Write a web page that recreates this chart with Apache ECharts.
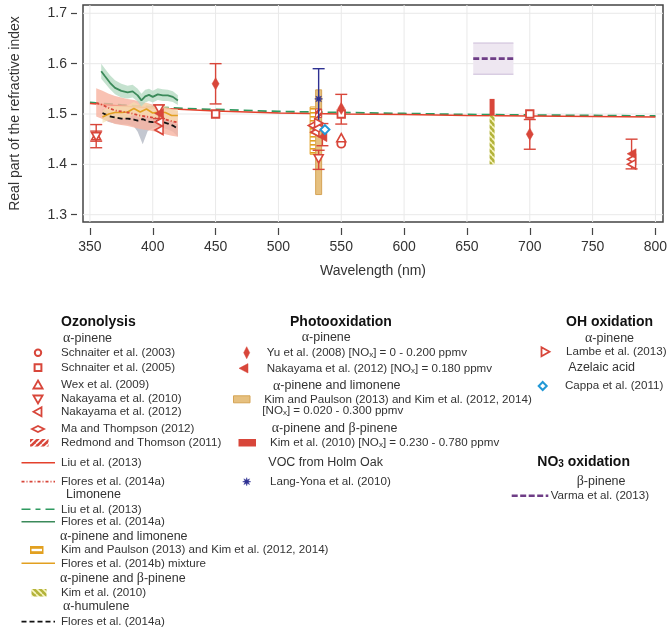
<!DOCTYPE html>
<html><head><meta charset="utf-8">
<script src="https://cdn.jsdelivr.net/npm/echarts@6/dist/echarts.min.js"></script>
<style>html,body{margin:0;padding:0;background:#fff}#c{width:671px;height:632px}</style>
</head><body><div id="c"></div>
<script>
// ---------- tick labels ----------
const xTickVals=[350,400,450,500,550,600,650,700,750,800];
const yTickVals=[1.3,1.4,1.5,1.6,1.7];

// ---------- Liu et al. (2013) model lines ----------
const liuX=[350,375,400,425,450,500,550,600,650,700,750,800];
const liuApN=[1.521,1.516,1.512,1.509,1.506,1.502,1.500,1.499,1.497,1.496,1.495,1.494];
const liuLimN=[1.523,1.518,1.514,1.511,1.509,1.505,1.503,1.501,1.499,1.498,1.497,1.496];

// ---------- Flores et al. spectra ----------
const limFlX=[359,362,366,370,375,380,384,388,391,394,397,400,404,408,412,416,420];
const limFlN=[1.585,1.575,1.562,1.552,1.546,1.543,1.545,1.537,1.527,1.535,1.538,1.534,1.539,1.537,1.537,1.534,1.527];
const limFlHi=[1.600,1.590,1.577,1.567,1.560,1.556,1.558,1.550,1.540,1.548,1.550,1.546,1.551,1.549,1.548,1.545,1.537];
const limFlLo=[1.570,1.561,1.549,1.539,1.533,1.531,1.533,1.525,1.515,1.523,1.526,1.523,1.528,1.526,1.526,1.524,1.518];

const apFlX=[355,360,365,370,375,380,385,390,395,400,405,410,415,420];
const apFlN=[1.522,1.518,1.512,1.507,1.505,1.503,1.500,1.497,1.495,1.493,1.490,1.489,1.486,1.483];
const apFlHi=[1.551,1.546,1.540,1.536,1.533,1.530,1.528,1.525,1.522,1.519,1.516,1.512,1.509,1.506];
const apFlLo=[1.495,1.490,1.485,1.480,1.478,1.476,1.473,1.470,1.468,1.466,1.463,1.460,1.457,1.455];

const mixFlX=[360,365,370,375,380,385,390,395,400,405,410,415,420];
const mixFlN=[1.494,1.500,1.503,1.503,1.504,1.511,1.504,1.510,1.502,1.504,1.503,1.497,1.497];
const mixFlHi=[1.507,1.513,1.516,1.516,1.517,1.524,1.517,1.523,1.515,1.517,1.516,1.510,1.510];
const mixFlLo=[1.482,1.488,1.491,1.491,1.492,1.499,1.492,1.498,1.490,1.492,1.491,1.485,1.485];

const humFlX=[360,365,370,375,380,385,388,392,396,400,404,408,412,416,420];
const humFlN=[1.502,1.496,1.493,1.491,1.491,1.489,1.487,1.490,1.485,1.484,1.487,1.484,1.481,1.477,1.471];
const humFlHi=[1.510,1.504,1.501,1.499,1.499,1.497,1.495,1.498,1.493,1.492,1.495,1.492,1.489,1.485,1.479];
const humFlLo=[1.490,1.484,1.481,1.479,1.479,1.475,1.465,1.440,1.466,1.472,1.475,1.472,1.469,1.465,1.455];

// ---------- Ozonolysis point data ----------
const schnaiter2003=[[550,1.441]];
const schnaiter2005=[[450,1.500],[550,1.500],[700,1.500]];
const wex2009=[[355,1.457],[550,1.453]];
const wex2009Err=[[355,1.446,1.479]];
const nakayama2010=[[355,1.455],[405,1.510],[532,1.411]];
const nakayama2010Err=[[355,1.433,1.466],[532,1.390,1.428]];
const nakayama2012Oz=[[405,1.484],[405,1.468],[527,1.477],[529,1.464],[781,1.410],[781,1.400]];
const maThompson2012=[[532,1.472]];
const redmond2011=[[532,1.493,1.510]];
const kimPaulsonOz=[[528,1.420,1.514]];
const kim2010Oz=[[670,1.400,1.497]];

// ---------- Photooxidation point data ----------
const yu2008=[[450,1.560],[550,1.511],[700,1.460]];
const yu2008Err=[[450,1.520,1.600],[550,1.480,1.539],[700,1.430,1.489]];
const nakayama2012Ph=[[405,1.501],[535,1.455],[781,1.421]];
const nakayama2012PhErr=[[405,1.491,1.518],[535,1.437,1.481],[781,1.391,1.450]];
const kimPaulsonPh=[[532,1.340,1.548]];
const kim2010Ph=[[670,1.497,1.530]];
const langYona2010=[[532,1.530]];
const langYona2010Err=[[532,1.470,1.590]];

// ---------- OH / NO3 oxidation ----------
const lambe2013=[[532,1.482]];
const cappa2011=[[537,1.469]];
const varmaX=[655,687];
const varmaN=[1.610,1.610];
const varmaLo=[1.579,1.579];
const varmaHi=[1.641,1.641];

// ---------- styles ----------
const F='Liberation Sans, Arial, sans-serif';
const RED='#d8463a', LIURED='#e4412c', GREEN='#3b8a5a', GREEN2='#2f9a60', ORANGE='#e2a020',
      NAVY='#2e3192', CYAN='#2198d6', PURPLE='#6e3d86', TAN='#e6c07f', TANB='#d5a455';

function pat(w,h,draw){const c=document.createElement('canvas');c.width=w;c.height=h;const g=c.getContext('2d');draw(g,w,h);return {image:c,repeat:'repeat'};}
function diag(bg,fg,dir){return pat(6,6,(g)=>{g.fillStyle=bg;g.fillRect(0,0,6,6);g.strokeStyle=fg;g.lineWidth=1.6;
  for(const o of [-6,0,6]){g.beginPath(); if(dir>0){g.moveTo(o,6);g.lineTo(o+6,0);}else{g.moveTo(o,0);g.lineTo(o+6,6);} g.stroke();}});}
const redHatch=diag(RED,'#ffffff',1);
const oliveHatch=diag('#b3b33a','#f8f4c0',-1);
const ladder=pat(4,4,(g)=>{g.fillStyle='#fff';g.fillRect(0,0,4,4);g.fillStyle=ORANGE;g.fillRect(0,0,4,1.6);});

const zip=(xs,ys)=>xs.map((x,i)=>[x,ys[i]]);
const triDown='path://M0,0 L10,0 L5,9 Z';
const triLeft='path://M0,5 L9,0 L9,10 Z';
const triRight='path://M0,0 L9,5 L0,10 Z';
function starPath(){let s='path://';for(let i=0;i<16;i++){const r=i%2?2.2:5;const a=Math.PI*i/8;s+=(i?'L':'M')+(5+r*Math.cos(a)).toFixed(2)+','+(5+r*Math.sin(a)).toFixed(2)+' ';}return s+'Z';}
const star=starPath();

function band(name,xs,lo,hi,fill,op,z){
  return {type:'custom',name,z,silent:true,data:[[xs[0],lo[0]]],renderItem:(p,api)=>{
    const pts=[];for(let i=0;i<xs.length;i++)pts.push(api.coord([xs[i],hi[i]]));
    for(let i=xs.length-1;i>=0;i--)pts.push(api.coord([xs[i],lo[i]]));
    return {type:'polygon',shape:{points:pts},style:{fill,opacity:op}};}};
}
function line(name,xs,ys,color,width,dash,z){
  return {type:'line',name,z,data:zip(xs,ys),symbol:'none',smooth:false,silent:true,
    lineStyle:{color,width,type:dash||'solid'}};
}
function rects(name,data,w,fill,stroke,z){
  return {type:'custom',name,z,data,encode:{x:0,y:[1,2]},renderItem:(p,api)=>{
    const a=api.coord([api.value(0),api.value(2)]),b=api.coord([api.value(0),api.value(1)]);
    return {type:'rect',shape:{x:a[0]-w/2,y:a[1],width:w,height:b[1]-a[1]},
      style:{fill,stroke:stroke||null,lineWidth:stroke?1:0}};}};
}
function errs(name,data,color,z){
  return {type:'custom',name,z,data,encode:{x:0,y:[1,2]},renderItem:(p,api)=>{
    const a=api.coord([api.value(0),api.value(1)]),b=api.coord([api.value(0),api.value(2)]);const c=6;
    const st={stroke:color,lineWidth:1.4};
    return {type:'group',children:[
      {type:'line',shape:{x1:a[0],y1:a[1],x2:b[0],y2:b[1]},style:st},
      {type:'line',shape:{x1:a[0]-c,y1:a[1],x2:a[0]+c,y2:a[1]},style:st},
      {type:'line',shape:{x1:b[0]-c,y1:b[1],x2:b[0]+c,y2:b[1]},style:st}]};}};
}
function pts(name,data,symbol,size,fill,stroke,z,bw){
  return {type:'scatter',name,z,data,symbol,symbolSize:size,
    itemStyle:{color:fill,borderColor:stroke,borderWidth:bw===undefined?1.6:bw,opacity:1}};
}
function grids(){
  return [{type:'custom',name:'gx',z:0,silent:true,data:xTickVals.map(v=>[v,1.5]),renderItem:(p,api)=>{
      const c=api.coord([api.value(0),1.5]);const cs=p.coordSys;
      return {type:'line',shape:{x1:c[0],y1:cs.y,x2:c[0],y2:cs.y+cs.height},style:{stroke:'#e9e9e9',lineWidth:1}};}},
    {type:'custom',name:'gy',z:0,silent:true,data:yTickVals.map(v=>[575,v]),renderItem:(p,api)=>{
      const c=api.coord([575,api.value(1)]);const cs=p.coordSys;
      return {type:'line',shape:{x1:cs.x,y1:c[1],x2:cs.x+cs.width,y2:c[1]},style:{stroke:'#e9e9e9',lineWidth:1}};}}];
}

// ---------- legend graphics ----------
const G=[];
const RICH={g:{fontFamily:'Liberation Serif, DejaVu Serif, serif',fontSize:14},
            s:{fontSize:8,verticalAlign:'bottom',padding:[5,0,0,0]}};
function T(x,y,text,o){G.push({type:'text',x,y,silent:true,z:10,style:Object.assign({text,fill:'#333',fontSize:11.6,fontFamily:F,align:'left',verticalAlign:'middle',rich:RICH},o||{})});}
function H(x,y,text){T(x,y,text,{fontSize:14,fontWeight:'bold',fill:'#111',rich:{s:{fontSize:10,fontWeight:'bold',verticalAlign:'bottom',padding:[6,0,0,0]}}});}
function S(x,y,text){T(x,y,text,{fontSize:12.5,fill:'#333'});}
function L(x1,x2,y,stroke,w,dash){G.push({type:'line',silent:true,shape:{x1,y1:y,x2,y2:y},style:{stroke,lineWidth:w,lineDash:dash||null}});}
function P(points,fill,stroke,w){G.push({type:'polygon',silent:true,shape:{points},style:{fill,stroke,lineWidth:w||0}});}
function R(x,y,w,h,fill,stroke,lw){G.push({type:'rect',silent:true,shape:{x,y,width:w,height:h},style:{fill,stroke:stroke||null,lineWidth:lw||0}});}

// column 1
H(61,321.7,'Ozonolysis');
S(63,338.3,'{g|α}-pinene');
G.push({type:'circle',silent:true,shape:{cx:38,cy:352.7,r:3.2},style:{fill:'#fff',stroke:RED,lineWidth:2}});
T(61,352.7,'Schnaiter et al. (2003)');
R(34.6,364.3,6.8,6.8,'#fff',RED,2); T(61,367.7,'Schnaiter et al. (2005)');
P([[38,380.5],[42.6,388.5],[33.4,388.5]],'#fff',RED,1.8); T(61,385,'Wex et al. (2009)');
P([[33.4,395.5],[42.6,395.5],[38,403.5]],'#fff',RED,1.8); T(61,399,'Nakayama et al. (2010)');
P([[33.5,411.7],[41.5,407.2],[41.5,416.2]],'#fff',RED,1.8); T(61,411.7,'Nakayama et al. (2012)');
P([[32,429],[38,426],[44,429],[38,432]],'#fff',RED,1.8); T(61,429,'Ma and Thompson (2012)');
R(30,439,18.5,7.5,redHatch,null,0); T(61,442.7,'Redmond and Thomson (2011)');
L(21.5,55,462.7,LIURED,1.6); T(61,462.7,'Liu et al. (2013)');
L(21.5,55,481.7,RED,1.8,[3,2,1,2]); T(61,481.7,'Flores et al. (2014a)');
S(66,495,'Limonene');
L(21.5,55,509.3,GREEN2,1.6,[9,5,5,5]); T(61,509.3,'Liu et al. (2013)');
L(21.5,55,521.7,GREEN,1.6); T(61,521.7,'Flores et al. (2014a)');
S(60,536.7,'{g|α}-pinene and limonene');
R(30,546,13.5,8,ORANGE,null,0); R(31.5,548.8,10.5,2.4,'#fff',null,0);
T(61,550,'Kim and Paulson (2013) and Kim et al. (2012, 2014)');
L(21.5,55,563.3,ORANGE,1.6); T(61,563.3,'Flores et al. (2014b) mixture');
S(60,578.3,'{g|α}-pinene and {g|β}-pinene');
R(31.5,589,15,7.5,oliveHatch,null,0); T(61,592.7,'Kim et al. (2010)');
S(63,606.7,'{g|α}-humulene');
L(21.5,55,621.7,'#111',1.8,[5,3]); T(61,621.7,'Flores et al. (2014a)');

// column 2
H(290,321.7,'Photooxidation');
S(301.7,337.3,'{g|α}-pinene');
P([[246.7,346.7],[249.7,352.7],[246.7,358.7],[243.7,352.7]],RED,RED,0.5);
T(266.7,352.7,'Yu et al. (2008) [NO{s|x}] = 0 - 0.200 ppmv');
P([[239,368.3],[248,363.6],[248,373]],RED,RED,0.5);
T(266.7,368.3,'Nakayama et al. (2012) [NO{s|x}] = 0.180 ppmv');
S(273,386,'{g|α}-pinene and limonene');
R(233.5,395.8,16.5,7,TAN,TANB,1);
T(264.3,399.3,'Kim and Paulson (2013) and Kim et al. (2012, 2014)');
T(262.3,410.5,'[NO{s|x}] = 0.020 - 0.300 ppmv');
S(271.7,428.3,'{g|α}-pinene and {g|β}-pinene');
R(238.5,439,17.5,7.5,RED,null,0);
T(270,442.7,'Kim et al. (2010) [NO{s|x}] = 0.230 - 0.780 ppmv');
S(268.3,462.3,'VOC from Holm Oak');
(function(){const p=[];for(let i=0;i<16;i++){const r=i%2?1.7:4;const a=Math.PI*i/8;p.push([246.7+r*Math.cos(a),481.7+r*Math.sin(a)]);}P(p,NAVY,NAVY,0.5);})();
T(270,481.7,'Lang-Yona et al. (2010)');

// column 3
H(566,322.3,'OH oxidation');
S(585,338.3,'{g|α}-pinene');
P([[541.5,347.2],[549.5,351.7],[541.5,356.2]],'#fff',RED,1.8); T(566,351.7,'Lambe et al. (2013)');
S(568.3,367.3,'Azelaic acid');
P([[542.7,382],[546.7,386],[542.7,390],[538.7,386]],'#fff',CYAN,2); T(565,386,'Cappa et al. (2011)');
H(537.3,461.7,'NO{s|3} oxidation');
S(576.7,481.7,'{g|β}-pinene');
L(511.7,548.3,495.7,PURPLE,2.6,[6,2.5]); T(550.7,495.7,'Varma et al. (2013)');

// ---------- chart ----------
const chart=echarts.init(document.getElementById('c'),null,{renderer:'canvas'});
const option={
  animation:false,
  backgroundColor:'#fff',
  grid:{left:71,top:5,width:592,height:217,show:true,borderColor:'#444',borderWidth:1.5,backgroundColor:'transparent'},
  xAxis:{type:'value',min:344.5,max:806,offset:6,
    axisLine:{show:false},
    axisTick:{show:true,length:7,customValues:xTickVals,lineStyle:{color:'#444',width:1.2}},
    axisLabel:{customValues:xTickVals,margin:12,fontSize:14,color:'#333',fontFamily:F},
    splitLine:{show:false},
    name:'Wavelength (nm)',nameLocation:'middle',nameGap:36,nameTextStyle:{fontSize:14,color:'#333',fontFamily:F}},
  yAxis:{type:'value',min:1.2855,max:1.7165,offset:6,
    axisLine:{show:false},
    axisTick:{show:true,length:6,customValues:yTickVals,lineStyle:{color:'#444',width:1.2}},
    axisLabel:{customValues:yTickVals,margin:10,fontSize:14,color:'#333',fontFamily:F,formatter:v=>v.toFixed(1)},
    splitLine:{show:false},
    name:'Real part of the refractive index',nameLocation:'middle',nameGap:55,nameTextStyle:{fontSize:14,color:'#333',fontFamily:F}},
  graphic:G,
  series:[
    ...grids(),
    line('Liu et al. (2013) limonene',liuX,liuLimN,GREEN2,1.8,[9,5],2),
    line('Liu et al. (2013) α-pinene',liuX,liuApN,LIURED,1.6,'solid',2),
    band('hum band',humFlX,humFlLo,humFlHi,'#b9bdc8',0.85,3),
    band('ap band',apFlX,apFlLo,apFlHi,'#f7b3a0',0.8,3),
    band('mix band',mixFlX,mixFlLo,mixFlHi,'#f4dfae',0.65,3),
    band('lim band',limFlX,limFlLo,limFlHi,'#b7dbc3',0.8,3),
    line('Flores humulene',humFlX,humFlN,'#111',1.8,[5,3],4),
    line('Flores mixture',mixFlX,mixFlN,ORANGE,1.6,'solid',4),
    line('Flores α-pinene',apFlX,apFlN,RED,1.8,[3,2,1,2],4),
    line('Flores limonene',limFlX,limFlN,GREEN,1.8,'solid',4),
    band('Varma band',varmaX,varmaLo,varmaHi,'#eee7f1',1,3),
    {type:'custom',name:'Varma box',z:3,silent:true,data:[[varmaX[0],varmaLo[0]]],renderItem:(p,api)=>{
      const a=api.coord([varmaX[0],varmaHi[0]]),b=api.coord([varmaX[1],varmaLo[1]]);
      return {type:'group',children:[
        {type:'line',shape:{x1:a[0],y1:a[1],x2:b[0],y2:a[1]},style:{stroke:'#cbbcd8',lineWidth:1}},
        {type:'line',shape:{x1:a[0],y1:b[1],x2:b[0],y2:b[1]},style:{stroke:'#cbbcd8',lineWidth:1}}]};}},
    line('Varma et al. (2013)',varmaX,varmaN,PURPLE,2.6,[6,2.5],4),
    rects('Kim and Paulson ozonolysis',kimPaulsonOz,7,ladder,ORANGE,5),
    rects('Kim and Paulson photo',kimPaulsonPh,6,TAN,TANB,5),
    rects('Redmond and Thomson (2011)',redmond2011,6,redHatch,RED,6),
    rects('Kim 2010 ozonolysis',kim2010Oz,5,oliveHatch,null,5),
    rects('Kim 2010 photo',kim2010Ph,5,RED,null,5),
    errs('Wex err',wex2009Err,RED,6),
    errs('Nakayama 2010 err',nakayama2010Err,RED,6),
    errs('Yu err',yu2008Err,RED,6),
    errs('Nakayama 2012 err',nakayama2012PhErr,RED,6),
    errs('Lang-Yona err',langYona2010Err,NAVY,6),
    pts('Schnaiter et al. (2003)',schnaiter2003,'circle',8,'#fff',RED,7,1.8),
    pts('Schnaiter et al. (2005)',schnaiter2005,'rect',7.5,'#fff',RED,7,1.8),
    pts('Wex et al. (2009)',wex2009,'triangle',[9,8],'#fff',RED,7),
    pts('Nakayama et al. (2010)',nakayama2010,triDown,[9,8],'#fff',RED,7),
    pts('Nakayama et al. (2012) ozonolysis',nakayama2012Oz,triLeft,[8,9],'#fff',RED,7),
    pts('Ma and Thompson (2012)',maThompson2012,'diamond',[12,7],'#fff',RED,7),
    pts('Yu et al. (2008)',yu2008,'diamond',[7,12],RED,RED,8,0.5),
    pts('Nakayama et al. (2012) photo',nakayama2012Ph,triLeft,[9,10],RED,RED,8,0.5),
    pts('Lambe et al. (2013)',lambe2013,triRight,[8,9],'#fff',RED,7),
    pts('Cappa et al. (2011)',cappa2011,'diamond',9,'#fff',CYAN,8,2),
    pts('Lang-Yona et al. (2010)',langYona2010,star,8,NAVY,NAVY,8,0.5)
  ]
};
chart.setOption(option);
</script>
</body></html>
